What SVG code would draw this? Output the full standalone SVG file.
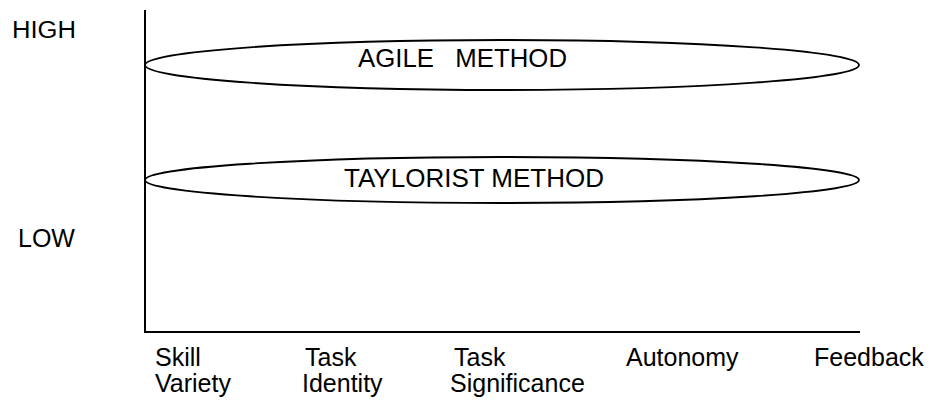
<svg xmlns="http://www.w3.org/2000/svg" width="932" height="401" viewBox="0 0 932 401">
  <style>
    .lbl { font-family: "Liberation Sans", Arial, sans-serif; font-size: 25px; fill: #000; }
    .axis { stroke: #000; stroke-width: 2; fill: none; }
    .band { stroke: #000; stroke-width: 1.8; fill: none; }
  </style>
  <rect width="932" height="401" fill="#fff"/>

  <!-- axes -->
  <g id="axes">
    <line class="axis" x1="145" y1="10" x2="145" y2="332"/>
    <line class="axis" x1="144" y1="332" x2="860" y2="332"/>
  </g>

  <!-- level labels -->
  <g id="level-high">
    <text class="lbl" x="12" y="38" style="font-size:23px" textLength="64" lengthAdjust="spacingAndGlyphs">HIGH</text>
  </g>
  <g id="level-low">
    <text class="lbl" x="18" y="247">LOW</text>
  </g>

  <!-- method bands -->
  <g id="agile-method">
    <ellipse class="band" cx="502" cy="65" rx="357" ry="25"/>
    <text class="lbl" x="358" y="67" textLength="209" lengthAdjust="spacingAndGlyphs" xml:space="preserve">AGILE   METHOD</text>
  </g>
  <g id="taylorist-method">
    <ellipse class="band" cx="502" cy="180" rx="357" ry="23"/>
    <text class="lbl" x="344" y="187" textLength="260" lengthAdjust="spacingAndGlyphs">TAYLORIST METHOD</text>
  </g>

  <!-- job characteristics along the horizontal axis -->
  <g id="skill-variety">
    <text class="lbl" x="155" y="366">Skill</text>
    <text class="lbl" x="155" y="392">Variety</text>
  </g>
  <g id="task-identity">
    <text class="lbl" x="305" y="366">Task</text>
    <text class="lbl" x="302" y="392">Identity</text>
  </g>
  <g id="task-significance">
    <text class="lbl" x="454" y="366">Task</text>
    <text class="lbl" x="450" y="392">Significance</text>
  </g>
  <g id="autonomy">
    <text class="lbl" x="626" y="366">Autonomy</text>
  </g>
  <g id="feedback">
    <text class="lbl" x="814" y="366">Feedback</text>
  </g>
</svg>
